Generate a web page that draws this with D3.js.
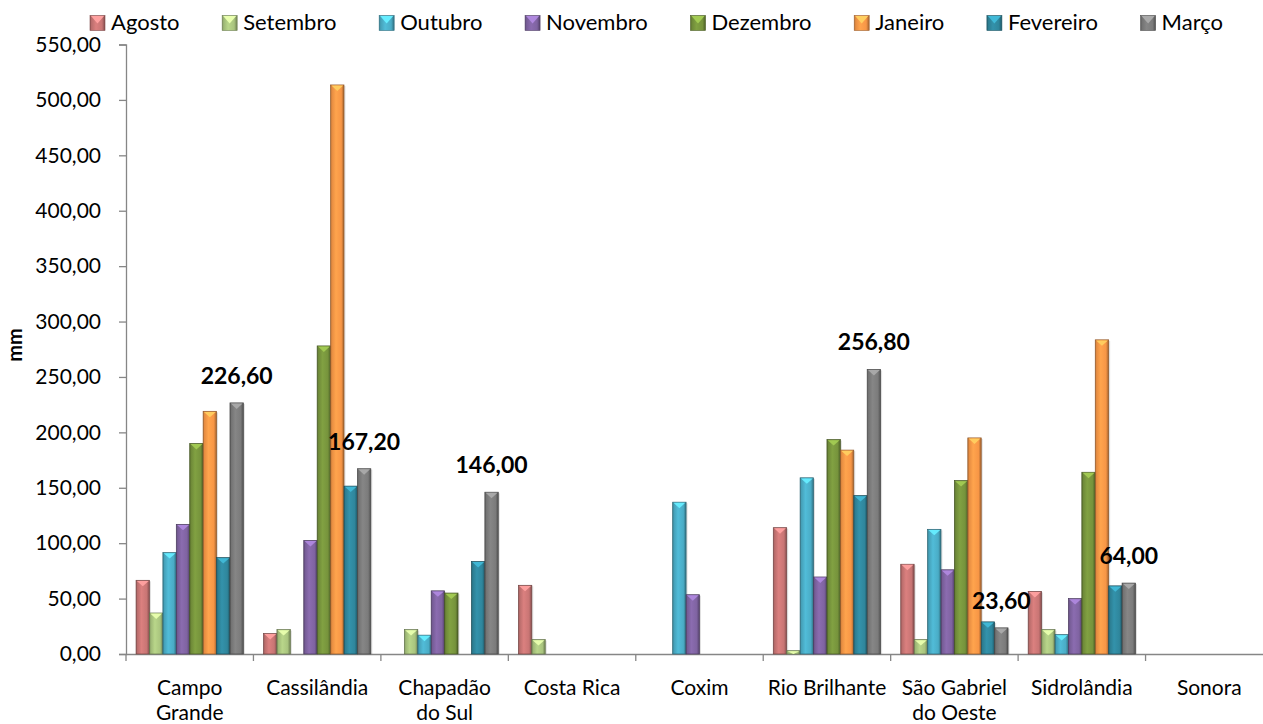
<!DOCTYPE html>
<html>
<head>
<meta charset="utf-8">
<script src="https://cdn.jsdelivr.net/npm/d3@7"></script>
<style>
  html, body { margin: 0; padding: 0; background: #ffffff; }
  svg { display: block; font-family: Lato, "Noto Sans", sans-serif; }
</style>
</head>
<body>
<svg id="chart" width="1263" height="724"></svg>
<script>
// ---------- data ----------
const categories = ["Campo Grande", "Cassilândia", "Chapadão do Sul", "Costa Rica", "Coxim",
                    "Rio Brilhante", "São Gabriel do Oeste", "Sidrolândia", "Sonora"];
const tickLabels = [["Campo", "Grande"], ["Cassilândia"], ["Chapadão", "do Sul"], ["Costa Rica"], ["Coxim"],
                    ["Rio Brilhante"], ["São Gabriel", "do Oeste"], ["Sidrolândia"], ["Sonora"]];
const months = ["Agosto", "Setembro", "Outubro", "Novembro", "Dezembro", "Janeiro", "Fevereiro", "Março"];
const agosto    = [66.5, 18.5,   0, 62,   0, 114,  81,   56.5, 0];
const setembro  = [37,   22,    22, 13,   0,   3,  13,   22,   0];
const outubro   = [91.5,  0,    17,  0, 137, 159, 112.5, 17.5, 0];
const novembro  = [117,  102.5, 57,  0, 53.5, 69.5, 76,  50,   0];
const dezembro  = [190,  278,   55,  0,   0, 193.5, 156.5, 164, 0];
const janeiro   = [219,  513.5,  0,  0,   0, 184, 195,  283.5, 0];
const fevereiro = [87,   151.5, 83.5, 0,  0, 143,  29,   61.5, 0];
const marco     = [226.6, 167.2, 146.0, 0, 0, 256.8, 23.6, 64.0, 0];
const seriesValues = [agosto, setembro, outubro, novembro, dezembro, janeiro, fevereiro, marco];
const yTicks = [0, 50, 100, 150, 200, 250, 300, 350, 400, 450, 500, 550];
const labeledSeries = "Março";
const yTitle = "mm";

// ---------- style ----------
const baseColors = ["#c87574", "#a9c47e", "#4aacc6", "#7f63a1", "#76933c", "#f79646", "#2f869c", "#7b7b7b"];

const svg = d3.select("#chart");
const pLeft = 126, pRight = 1273, pTop = 44.5, pBottom = 654;

const locale = d3.formatLocale({ decimal: ",", thousands: ".", grouping: [3], currency: ["R$", ""] });
const fmt = locale.format(".2f");

const x = d3.scaleBand().domain(categories).range([pLeft, pRight]).paddingInner(0).paddingOuter(0);
const xs = d3.scaleBand().domain(months).range([0, x.bandwidth()]).paddingInner(0).paddingOuter(0.75);
const y = d3.scaleLinear().domain([0, 550]).range([pBottom, pTop]);

// gradients
const defs = svg.append("defs");
baseColors.forEach((c, i) => {
  const g = defs.append("linearGradient").attr("id", "g" + i).attr("x1", "0").attr("x2", "1").attr("y1", "0").attr("y2", "0");
  const base = d3.color(c);
  g.append("stop").attr("offset", "0%").attr("stop-color", base.darker(0.9));
  g.append("stop").attr("offset", "10%").attr("stop-color", base.darker(0.2));
  g.append("stop").attr("offset", "40%").attr("stop-color", base.brighter(0.25));
  g.append("stop").attr("offset", "80%").attr("stop-color", base);
  g.append("stop").attr("offset", "100%").attr("stop-color", base.darker(1.2));
});

// axes
const yAxis = d3.axisLeft(y).tickValues(yTicks).tickFormat(fmt).tickSize(7).tickPadding(18);
const gy = svg.append("g").attr("transform", `translate(${pLeft},0)`).call(yAxis);
gy.select(".domain").attr("stroke", "#868686").attr("stroke-width", 1.3);
gy.selectAll(".tick line").attr("stroke", "#868686").attr("stroke-width", 1.3);
gy.selectAll(".tick text").attr("font-size", 21).attr("fill", "#000").attr("font-family", "Lato, sans-serif");

const xAxis = d3.axisBottom(x).tickSize(0).tickFormat("");
const gx = svg.append("g").attr("transform", `translate(0,${pBottom})`).call(xAxis);
gx.select(".domain").attr("stroke", "#868686").attr("stroke-width", 1.3);
svg.append("g").selectAll("line").data(categories).join("line")
  .attr("x1", d => x(d)).attr("x2", d => x(d))
  .attr("y1", pBottom).attr("y2", pBottom + 7)
  .attr("stroke", "#868686").attr("stroke-width", 1.3);

// category labels
const cl = svg.append("g").selectAll("text").data(categories).join("text")
  .attr("x", d => x(d) + x.bandwidth() / 2)
  .attr("y", 695)
  .attr("text-anchor", "middle")
  .attr("font-size", 21)
  .attr("fill", "#000");
cl.each(function(d, i) {
  const t = d3.select(this);
  tickLabels[i].forEach((line, k) => {
    t.append("tspan").attr("x", x(d) + x.bandwidth() / 2).attr("dy", k === 0 ? 0 : 25).text(line);
  });
});

// bars
const barData = [];
months.forEach((m, si) => {
  categories.forEach((c, ci) => {
    barData.push({ m, si, c, v: seriesValues[si][ci] });
  });
});
const bars = svg.append("g").selectAll("g").data(barData.filter(d => d.v > 0)).join("g");
bars.append("rect")
  .attr("x", d => x(d.c) + xs(d.m) + 1.5)
  .attr("y", d => y(d.v) + 1)
  .attr("width", xs.bandwidth())
  .attr("height", d => pBottom - y(d.v) - 1)
  .attr("fill", "rgba(0,0,0,0.12)");
bars.append("rect")
  .attr("x", d => x(d.c) + xs(d.m))
  .attr("y", d => y(d.v))
  .attr("width", xs.bandwidth())
  .attr("height", d => pBottom - y(d.v))
  .attr("fill", d => `url(#g${d.si})`)
  .attr("stroke", d => d3.color(baseColors[d.si]).darker(1.5))
  .attr("stroke-width", 0.7);
bars.append("path")
  .attr("d", d => {
    const x0 = x(d.c) + xs(d.m), w = xs.bandwidth(), yt = y(d.v);
    const h = Math.min(6, pBottom - yt);
    return `M${x0 + 0.8},${yt + 0.6} L${x0 + w - 0.8},${yt + 0.6} L${x0 + w / 2},${yt + h} Z`;
  })
  .attr("fill", d => d3.color(baseColors[d.si]).brighter(0.9))
  .attr("opacity", 0.95);

// data labels (Março)
const li = months.indexOf(labeledSeries);
svg.append("g").selectAll("text").data(categories.map((c, i) => ({ c, v: seriesValues[li][i] })).filter(d => d.v > 0))
  .join("text")
  .attr("x", d => x(d.c) + xs(labeledSeries) + xs.bandwidth() / 2)
  .attr("y", d => y(d.v) - 19)
  .attr("text-anchor", "middle")
  .attr("font-size", 23)
  .attr("font-weight", "bold")
  .attr("fill", "#000")
  .text(d => fmt(d.v));

// y title
svg.append("text")
  .attr("transform", "translate(22,345) rotate(-90)")
  .attr("text-anchor", "middle")
  .attr("font-size", 20)
  .attr("font-weight", "bold")
  .text(yTitle);

// legend: laid out from x=90 so that the last label ends near x=1223
const lg = svg.append("g");
const items = months.map((m, i) => {
  const it = lg.append("g");
  it.append("rect").attr("x", 0).attr("y", 15.5).attr("width", 15).attr("height", 15)
    .attr("fill", `url(#g${i})`).attr("stroke", d3.color(baseColors[i]).darker(1.2)).attr("stroke-width", 0.6);
  it.append("path").attr("d", "M1,16.1 L14,16.1 L7.5,23.5 Z").attr("fill", d3.color(baseColors[i]).brighter(0.9));
  const t = it.append("text").attr("x", 21).attr("y", 30).attr("font-size", 22).attr("fill", "#000").text(m);
  return { it, w: 21 + t.node().getComputedTextLength() };
});
const legStart = 90, legEnd = 1223;
const gap = (legEnd - legStart - d3.sum(items, d => d.w)) / (items.length - 1);
let lx = legStart;
items.forEach(d => { d.it.attr("transform", `translate(${lx},0)`); lx += d.w + gap; });
</script>
</body>
</html>
